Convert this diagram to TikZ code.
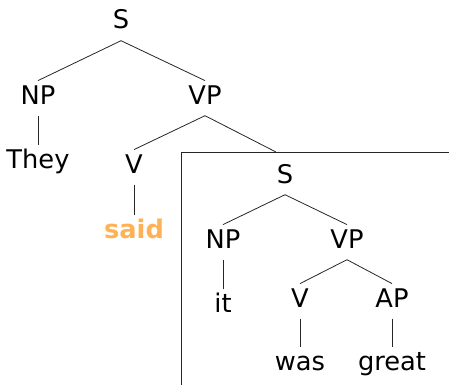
\documentclass[tikz,border=0pt]{standalone}
\usepackage{fontspec}
\setmainfont{DejaVu Sans}
\definecolor{hilite}{RGB}{255,178,85}
\begin{document}
\begin{tikzpicture}[x=1pt,y=-1pt,
  lbl/.style={font=\fontsize{25.7}{30}\selectfont, inner sep=0pt,
              text height=23.2pt, text depth=11.5pt, anchor=base},
  hl/.style={lbl, font=\fontsize{25.7}{30}\selectfont\bfseries, text=hilite},
  branch/.style={draw=black!85, line width=0.8pt},
  frame/.style={draw=black!85, line width=0.8pt}]
\useasboundingbox (0,0) rectangle (449,385);

% matrix clause
\node[lbl] (S)    at (121,29)  {S};
\node[lbl] (NP)   at (38,104)  {NP};
\node[lbl] (VP)   at (205,104) {VP};
\node[lbl] (They) at (38,168)  {They};
\node[lbl] (V)    at (134,173) {V};
\node[hl]  (said) at (134,238) {said};

% embedded clause, set off by a frame
\coordinate (cut) at (276,152);
\draw[frame] (181,385) -- (181,152) -- (449,152);

\node[lbl] (S2)    at (285,183) {S};
\node[lbl] (NP2)   at (223,248) {NP};
\node[lbl] (VP2)   at (347,248) {VP};
\node[lbl] (it)    at (223,312) {it};
\node[lbl] (V2)    at (300,307) {V};
\node[lbl] (AP)    at (392,307) {AP};
\node[lbl] (was)   at (300,370) {was};
\node[lbl] (great) at (392,370) {great};

% branches
\draw[branch] (S.south) -- (NP.north);
\draw[branch] (S.south) -- (VP.north);
\draw[branch] (NP.south) -- (They.north);
\draw[branch] (VP.south) -- (V.north);
\draw[branch] (VP.south) -- (cut);
\draw[branch] (V.south) -- (said.north);

\draw[branch] (S2.south) -- (NP2.north);
\draw[branch] (S2.south) -- (VP2.north);
\draw[branch] (NP2.south) -- (it.north);
\draw[branch] (VP2.south) -- (V2.north);
\draw[branch] (VP2.south) -- (AP.north);
\draw[branch] (V2.south) -- (was.north);
\draw[branch] (AP.south) -- (great.north);
\end{tikzpicture}
\end{document}
